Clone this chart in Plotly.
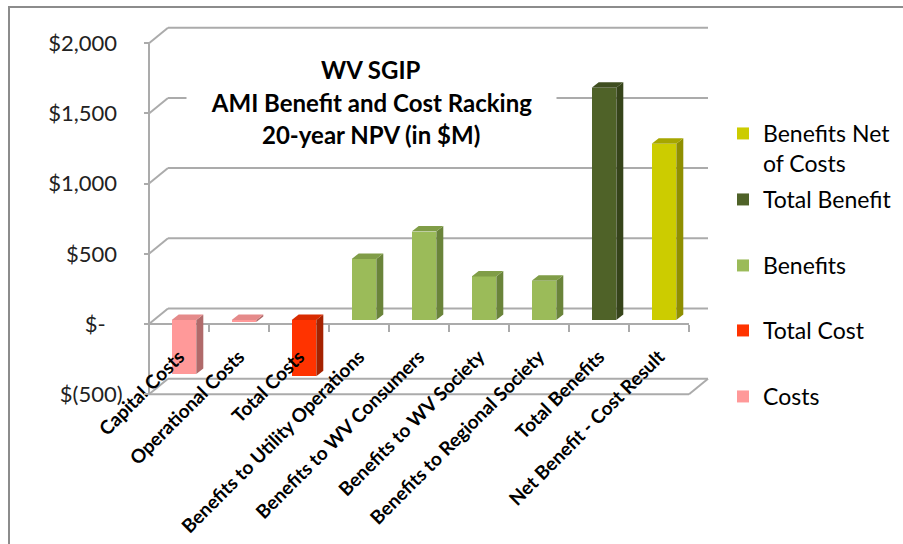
import plotly.graph_objects as go

# ---- data (20-year NPV, $M) ----
categories = [
    "Capital Costs", "Operational Costs", "Total Costs",
    "Benefits to Utility Operations", "Benefits to WV Consumers",
    "Benefits to WV Society", "Benefits to Regional Society",
    "Total Benefits", "Net Benefit - Cost Result",
]
costs = [-385, -15]
total_cost = [-400]
benefits = [435, 630, 310, 280]
total_benefit = [1655]
net_benefit = [1255]

y_tickvals = [2000, 1500, 1000, 500, 0, -500]
y_ticktext = ["$2,000\u00a0", "$1,500\u00a0", "$1,000\u00a0", "$500\u00a0", "$-\u00a0\u00a0\u00a0", "$(500)"]

# series: name, category indices, values, front / side / top colours
series = [
    ("Costs", [0, 1], costs, "#FF9999", "#B06A6A", "#E58A8A"),
    ("Total Cost", [2], total_cost, "#FF3300", "#A52200", "#D92B00"),
    ("Benefits", [3, 4, 5, 6], benefits, "#9BBB59", "#6A843A", "#809D47"),
    ("Total Benefit", [7], total_benefit, "#4F6228", "#36441A", "#3F4E20"),
    ("Benefits Net<br>of Costs", [8], net_benefit, "#CCCC00", "#8F8F00", "#A6A600"),
]

# ---- canvas / projection settings ----
FIG_W, FIG_H = 903, 544
ML, MR, MT, MB = 143, 190, 23, 146
PLOT_W = FIG_W - ML - MR
PLOT_H = FIG_H - MT - MB
UNIT_PX = 60.0                 # px per category
K = 351.0 / 2500.0             # px per $M
ZERO_PX = 324.0                # y pixel of value 0 on the front plane
X_MIN = -0.6
X_MAX = X_MIN + PLOT_W / UNIT_PX
Y_MAX = (ZERO_PX - MT) / K
Y_MIN = -(FIG_H - MB - ZERO_PX) / K

# depth of the chart box (back wall offset) in data units
DEPTH_X = 19.0 / UNIT_PX
DEPTH_Y = 15.5 / K
# bar placement inside the box
BAR_W = 0.41
BAR_SHIFT_X = 5.0 / UNIT_PX
BAR_SHIFT_Y = 4.0 / K
BAR_DX = 7.0 / UNIT_PX
BAR_DY = 5.5 / K

GRID = "#ABABAB"
FONT = "Lato"


def px_x(p):
    return (p - ML) / PLOT_W


def px_y(p):
    return (FIG_H - MB - p) / PLOT_H


fig = go.Figure()

# front faces of the bars
for name, idx, vals, front, side, top in series:
    fig.add_trace(go.Bar(
        x=[i + BAR_SHIFT_X for i in idx], y=vals, base=BAR_SHIFT_Y,
        width=BAR_W, marker=dict(color=front, line=dict(width=0)),
        name=name, showlegend=True,
    ))

# side and top faces for the 3-D look
for name, idx, vals, front, side, top in series:
    sx, sy, tx, ty = [], [], [], []
    for i, v in zip(idx, vals):
        x0 = i + BAR_SHIFT_X - BAR_W / 2
        x1 = i + BAR_SHIFT_X + BAR_W / 2
        lo = min(v, 0) + BAR_SHIFT_Y
        hi = max(v, 0) + BAR_SHIFT_Y
        sx += [x1, x1, x1 + BAR_DX, x1 + BAR_DX, x1, None]
        sy += [lo, hi, hi + BAR_DY, lo + BAR_DY, lo, None]
        tx += [x0, x1, x1 + BAR_DX, x0 + BAR_DX, x0, None]
        ty += [hi, hi, hi + BAR_DY, hi + BAR_DY, hi, None]
    for xs, ys, col in ((sx, sy, side), (tx, ty, top)):
        fig.add_trace(go.Scatter(
            x=xs, y=ys, mode="lines", fill="toself", fillcolor=col,
            line=dict(width=0), hoverinfo="skip", showlegend=False,
        ))

shapes = []


def seg(x0, y0, x1, y1, color=GRID, width=2):
    shapes.append(dict(type="line", xref="x", yref="y", x0=x0, y0=y0, x1=x1, y1=y1,
                       line=dict(color=color, width=width), layer="below"))


x_left, x_right = -0.5, len(categories) - 0.5
# back wall gridlines + side wall diagonals
for lv in y_tickvals:
    seg(x_left + DEPTH_X, lv + DEPTH_Y, x_right + DEPTH_X, lv + DEPTH_Y)
    seg(x_left, lv, x_left + DEPTH_X, lv + DEPTH_Y)
# front value axis
seg(x_left, y_tickvals[-1], x_left, y_tickvals[0])
# front edge of the zero plane (category axis)
seg(x_left, 0, x_right, 0)
# floor front edge and right edge
seg(x_left, y_tickvals[-1], x_right, y_tickvals[-1])
seg(x_right, y_tickvals[-1], x_right + DEPTH_X, y_tickvals[-1] + DEPTH_Y)

# outer chart border
shapes.append(dict(type="rect", xref="paper", yref="paper",
                   x0=px_x(9), y0=px_y(FIG_H + 20), x1=px_x(FIG_W + 20), y1=px_y(7),
                   line=dict(color="#8C8C8C", width=2), fillcolor="rgba(0,0,0,0)"))

# title, three lines; the middle one blanks the gridline behind it
title_lines = ["WV SGIP", "AMI Benefit and Cost Racking", "20-year NPV (in $M)"]
title_y = [70, 102, 134]
annotations = []
for j in (1, 0, 2):
    a = dict(text="<b>%s</b>" % title_lines[j], xref="paper", yref="paper",
             x=px_x(371), y=px_y(title_y[j]), xanchor="center", yanchor="middle",
             showarrow=False, font=dict(family=FONT, size=24, color="black"))
    if j == 1:
        a.update(bgcolor="white", width=365, borderpad=2)
    annotations.append(a)

# one legend per series, stacked on the right
legend_pos = {
    "Benefits Net<br>of Costs": 133,
    "Total Benefit": 199,
    "Benefits": 265,
    "Total Cost": 330,
    "Costs": 396,
}
legend_layouts = {}
for k, (name, *_rest) in enumerate(series):
    key = "legend" if k == 0 else "legend%d" % (k + 1)
    fig.data[k].legend = key
    legend_layouts[key] = dict(
        x=px_x(723), y=px_y(legend_pos[name] - 21), xanchor="left", yanchor="top",
        bgcolor="rgba(0,0,0,0)", borderwidth=0, valign="top",
        font=dict(family=FONT, size=23, color="black"),
    )

fig.update_layout(
    width=FIG_W, height=FIG_H,
    margin=dict(l=ML, r=MR, t=MT, b=MB, autoexpand=False),
    paper_bgcolor="white", plot_bgcolor="white",
    barmode="overlay", bargap=0,
    shapes=shapes, annotations=annotations,
    font=dict(family=FONT, color="black"),
    xaxis=dict(
        range=[X_MIN, X_MAX], anchor="free", position=(0 - Y_MIN) / (Y_MAX - Y_MIN),
        tickmode="array", tickvals=list(range(len(categories))), ticktext=categories,
        tickangle=-45, ticks="", showgrid=False, zeroline=False, showline=False,
        tickfont=dict(family=FONT, size=19, color="black", weight="bold"),
        ticklabelstandoff=17,
        minor=dict(tickmode="array", tickvals=[i - 0.5 for i in range(len(categories) + 1)],
                   ticks="outside", ticklen=7, tickwidth=2, tickcolor=GRID, showgrid=False),
        fixedrange=True,
    ),
    yaxis=dict(
        range=[Y_MIN, Y_MAX], anchor="free", position=(x_left - X_MIN) / (X_MAX - X_MIN),
        tickmode="array", tickvals=y_tickvals, ticktext=y_ticktext,
        ticks="outside", ticklen=5, tickwidth=2, tickcolor=GRID,
        showgrid=False, zeroline=False, showline=False,
        tickfont=dict(family=FONT, size=22, color="#222222"),
        ticklabelstandoff=17,
        fixedrange=True,
    ),
    **legend_layouts,
)

fig.write_html("out.html")
